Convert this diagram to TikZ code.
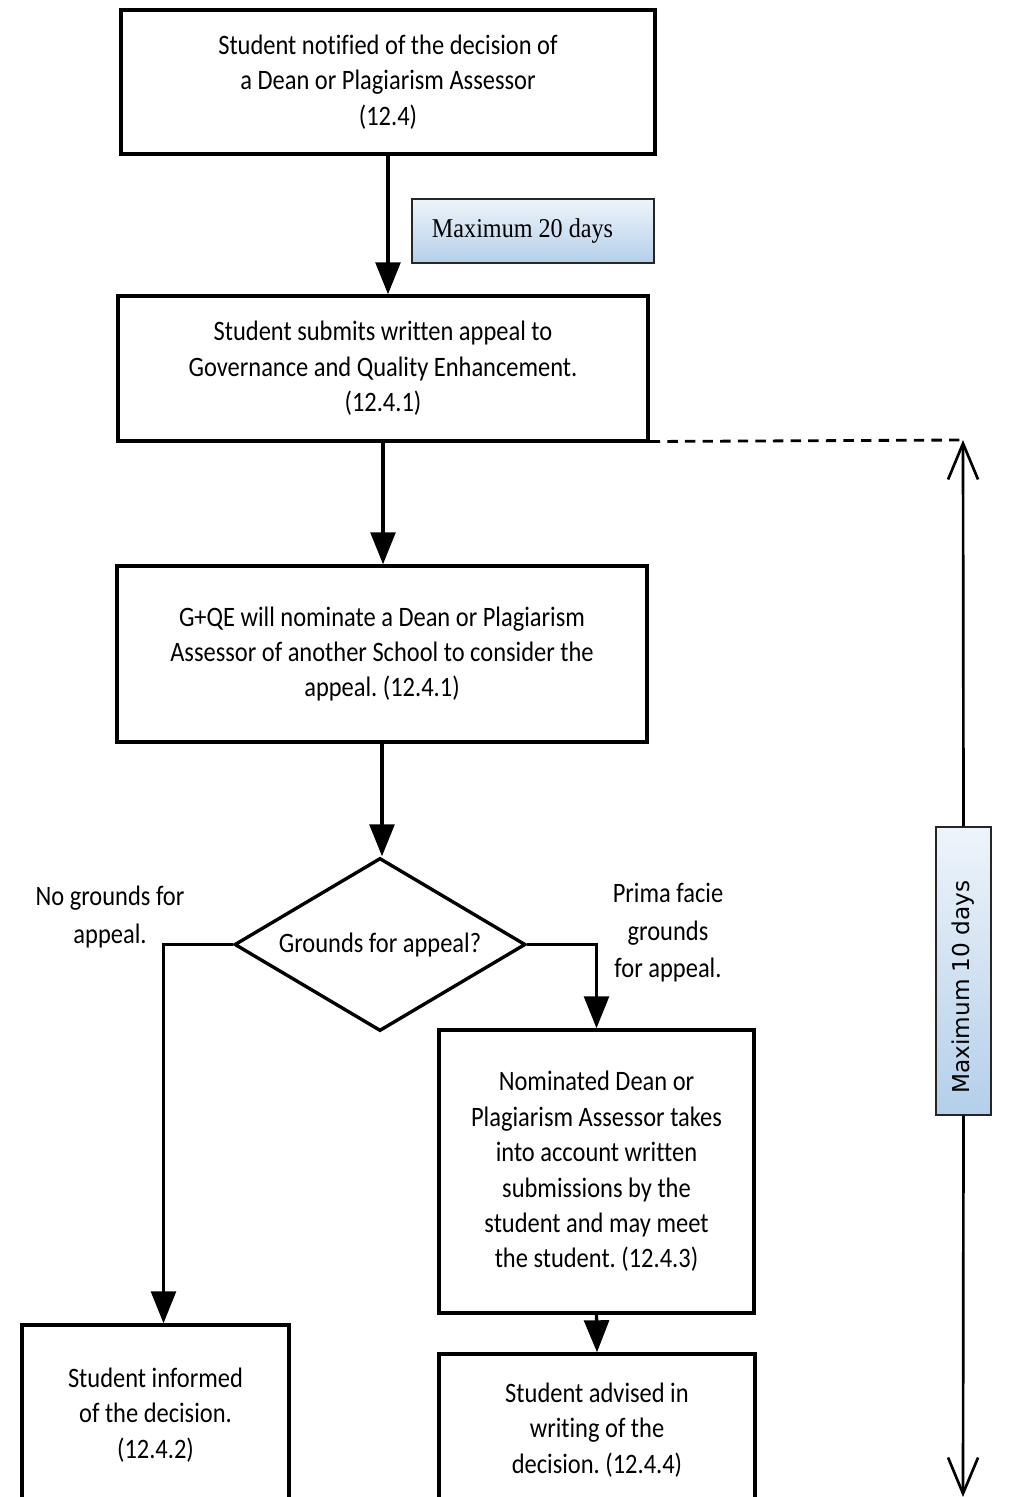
\documentclass[tikz,border=0pt]{standalone}
\usepackage{xcolor}
\usepackage{fontspec}
\setmainfont{Carlito}[FakeStretch=0.87, Ligatures=NoCommon]
\newfontfamily\serifdays{Liberation Serif}[FakeStretch=0.89]
\newfontfamily\sansdays{DejaVu Sans}
\usepackage{tikz}
\usetikzlibrary{shapes,arrows.meta,positioning}
\frenchspacing

\definecolor{daylight}{RGB}{238,244,250}
\definecolor{dayblue}{RGB}{180,207,234}

\tikzset{
	stepbox/.style = {draw, line width=2.4pt, align=center, inner sep=0pt,
		font=\fontsize{20}{25.2}\selectfont},
	flow/.style = {line width=2.4pt, -{Triangle[length=0.8cm,width=0.62cm]}},
	daysbox/.style = {draw=black!85, line width=0.9pt, inner sep=0pt},
	span/.style = {line width=1.9pt, -{Straight Barb[length=0.9cm,width=0.75cm]}},
	note/.style = {align=center, font=\fontsize{20}{26.7}\selectfont}
}

\begin{document}
\begin{tikzpicture}[x=0.025cm, y=-0.025cm]

	\useasboundingbox (0,0) rectangle (1013,1497);
	\clip (0,0) rectangle (1013,1497);

	\node[stepbox, minimum width=13.35cm, minimum height=3.6cm] (notified) at (388,82)
		{Student notified of the decision of\\a Dean or Plagiarism Assessor\\(12.4)};
	\node[stepbox, minimum width=13.25cm, minimum height=3.625cm] (submits) at (383,368.5)
		{Student submits written appeal to\\Governance and Quality Enhancement.\\(12.4.1)};
	\node[stepbox, minimum width=13.25cm, minimum height=4.4cm] (nominate) at (382,654)
		{G+QE will nominate a Dean or Plagiarism\\Assessor of another School to consider the\\appeal. (12.4.1)};
	\node[stepbox, diamond, aspect=1.68, minimum width=7.275cm, minimum height=4.325cm] (decision) at (380,944.5)
		{Grounds for appeal?};
	\node[stepbox, minimum width=6.675cm, minimum height=4.5cm] (inform) at (155.5,1415)
		{Student informed\\of the decision.\\(12.4.2)};
	\node[stepbox, minimum width=7.875cm, minimum height=7.075cm] (consider) at (596.5,1171.5)
		{Nominated Dean or\\Plagiarism Assessor takes\\into account written\\submissions by the\\student and may meet\\the student. (12.4.3)};
	\node[stepbox, minimum width=7.9cm, minimum height=3.8cm] (advised) at (597,1430)
		{Student advised in\\writing of the\\decision. (12.4.4)};

	\node[note] (nogrounds) at (110,917) {No grounds for\\appeal.};
	\node[note] (primafacie) at (668,933) {Prima facie\\grounds\\for appeal.};

	\node[daysbox, top color=daylight, bottom color=dayblue, minimum height=1.6cm,
		inner xsep=0.5cm, text width=5.05cm, align=flush left,
		font=\serifdays\fontsize{19.3}{23}\selectfont] (max20) at (533,231) {Maximum 20 days};
	\node[daysbox, rotate=90, top color=daylight, bottom color=dayblue, minimum width=7.2cm, minimum height=1.375cm,
		font=\sansdays\fontsize{16.5}{20}\selectfont] (max10) at (963.5,971) {Maximum 10 days\kern0.8cm};

	\draw[flow] (notified.south) -- (notified.south |- submits.north);
	\draw[flow] (submits.south) -- (submits.south |- nominate.north);
	\draw[flow] (nominate.south) -- (nominate.south |- decision.north);
	\draw[flow] (decision.west) -| ([xshift=0.2cm]inform.north);
	\draw[flow] (decision.east) -| (consider.north);
	\draw[flow] (consider.south) -- (advised.north);

	\coordinate (spantop) at (963,440);
	\coordinate (spanbot) at (963,1497);
	\draw[line width=2pt, dash pattern=on 0.26cm off 0.18cm] ([yshift=0.03cm]submits.south east) -- (spantop);
	\draw[span] (max10.east) -- (spantop);
	\draw[span] (max10.west) -- (spanbot);

\end{tikzpicture}
\end{document}
